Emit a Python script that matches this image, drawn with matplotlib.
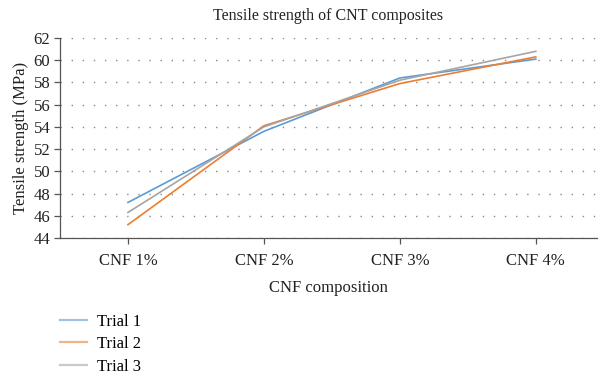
import matplotlib
matplotlib.use("Agg")
import matplotlib.pyplot as plt

categories = ["CNF 1%", "CNF 2%", "CNF 3%", "CNF 4%"]
trial1 = [47.2, 53.6, 58.4, 60.1]
trial2 = [45.2, 54.1, 57.9, 60.3]
trial3 = [46.3, 54.0, 58.2, 60.8]
series_names = ["Trial 1", "Trial 2", "Trial 3"]
yticks = [44, 46, 48, 50, 52, 54, 56, 58, 60, 62]

plt.rcParams['font.family'] = ['Liberation Serif', 'DejaVu Serif']

fig = plt.figure(figsize=(6.0, 3.76), dpi=100)
ax = fig.add_axes([0.1, 0.367, 0.895, 0.532])

colors = ["#5B9BD5", "#ED7D31", "#A5A5A5"]
x = list(range(len(categories)))
lines = []
for vals, name, c in zip([trial1, trial2, trial3], series_names, colors):
    ln, = ax.plot(x, vals, color=c, lw=1.2, label=name)
    lines.append(ln)

ax.set_ylim(44, 62)
ax.set_yticks(yticks)
ax.set_xlim(-0.5, 3.45)
ax.set_xticks(x)
ax.set_xticklabels(categories)
ax.yaxis.grid(True, linestyle=(0, (1, 7)), color="#888888", lw=1.0)
ax.set_axisbelow(True)
for s in ["top", "right"]:
    ax.spines[s].set_visible(False)
for s in ["left", "bottom"]:
    ax.spines[s].set_color("#555555")
    ax.spines[s].set_linewidth(0.9)
ax.tick_params(axis="both", colors="#555555", labelcolor="#222222", labelsize=12, length=4, width=0.9)
ax.tick_params(axis="x", pad=7)
ax.tick_params(axis="y", pad=3)

ax.set_title("Tensile strength of CNT composites", fontsize=11.5, color="#222222", pad=13)
ax.set_ylabel("Tensile strength (MPa)", fontsize=12, color="#222222", labelpad=3)
ax.set_xlabel("CNF composition", fontsize=12, color="#222222", labelpad=8)

leg = fig.legend(handles=lines, labels=series_names, loc="upper left",
                 bbox_to_anchor=(0.075, 0.205), frameon=False, fontsize=12,
                 handlelength=1.6, handletextpad=0.6, labelspacing=0.38)
for h in leg.get_lines():
    h.set_alpha(0.6)
    h.set_linewidth(1.6)

fig.savefig("out.png", dpi=100)
